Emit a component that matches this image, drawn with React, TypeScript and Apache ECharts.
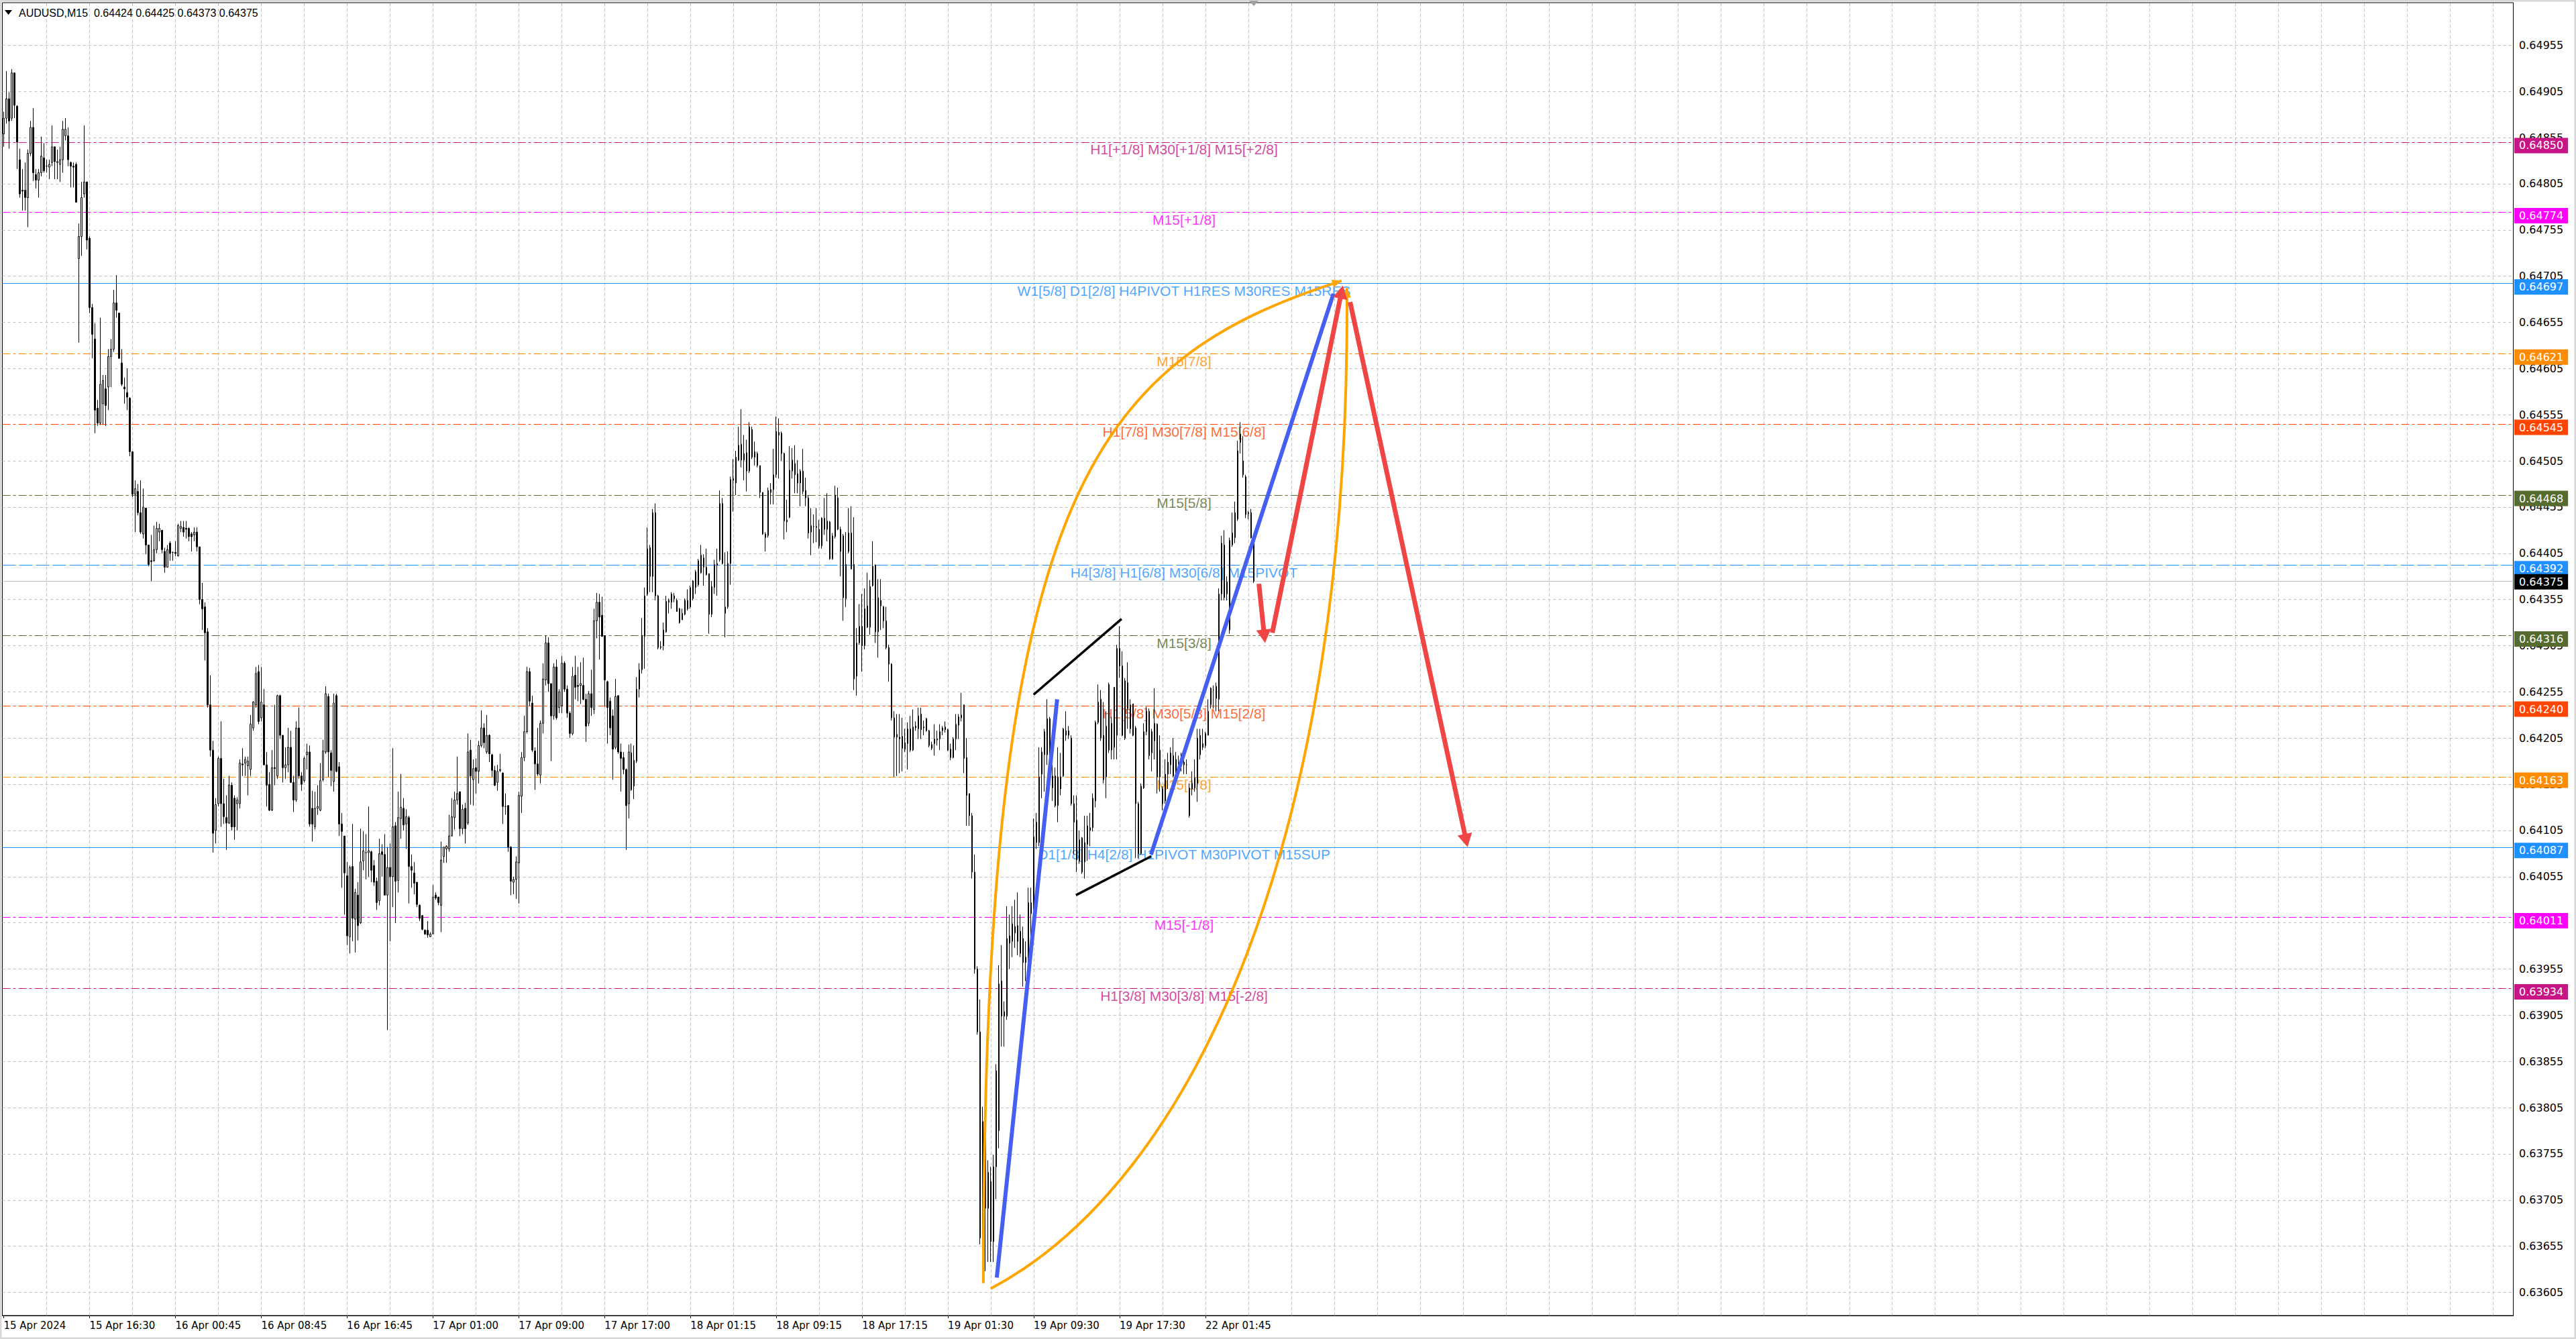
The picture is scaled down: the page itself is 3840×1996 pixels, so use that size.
import React, { useEffect, useRef } from "react";
import * as echarts from "echarts";

// ---------------- data ----------------
const headerText = "AUDUSD,M15  0.64424 0.64425 0.64373 0.64375";

// M15 bars: [open, high, low, close]
const ohlc: number[][] = [
  [0.64859,0.64883,0.64845,0.64876],[0.64876,0.64927,0.64870,0.64897],[0.64897,0.64904,0.64843,0.64873],[0.64876,0.64929,0.64873,0.64925],
  [0.64925,0.64925,0.64876,0.64890],[0.64889,0.64890,0.64821,0.64850],[0.64831,0.64843,0.64790,0.64794],[0.64798,0.64821,0.64776,0.64797],
  [0.64798,0.64828,0.64776,0.64790],[0.64790,0.64842,0.64758,0.64838],[0.64838,0.64873,0.64835,0.64866],[0.64866,0.64887,0.64808,0.64817],
  [0.64815,0.64821,0.64800,0.64809],[0.64809,0.64821,0.64790,0.64817],[0.64817,0.64856,0.64813,0.64835],[0.64833,0.64849,0.64817,0.64819],
  [0.64824,0.64831,0.64817,0.64824],[0.64823,0.64831,0.64810,0.64826],[0.64828,0.64868,0.64824,0.64845],[0.64845,0.64845,0.64810,0.64829],
  [0.64828,0.64842,0.64810,0.64829],[0.64826,0.64845,0.64807,0.64831],[0.64831,0.64873,0.64817,0.64864],[0.64857,0.64876,0.64852,0.64864],
  [0.64857,0.64866,0.64824,0.64831],[0.64828,0.64829,0.64801,0.64824],[0.64824,0.64828,0.64801,0.64823],[0.64826,0.64828,0.64785,0.64785],
  [0.64724,0.64762,0.64633,0.64748],[0.64748,0.64807,0.64727,0.64790],[0.64794,0.64868,0.64790,0.64807],[0.64807,0.64807,0.64734,0.64744],
  [0.64746,0.64748,0.64665,0.64671],[0.64671,0.64675,0.64616,0.64642],[0.64637,0.64654,0.64535,0.64560],[0.64562,0.64571,0.64543,0.64546],
  [0.64546,0.64660,0.64544,0.64588],[0.64567,0.64598,0.64544,0.64592],[0.64583,0.64598,0.64543,0.64565],[0.64585,0.64626,0.64560,0.64618],
  [0.64618,0.64637,0.64585,0.64626],[0.64626,0.64690,0.64623,0.64676],[0.64676,0.64706,0.64660,0.64668],[0.64665,0.64665,0.64616,0.64616],
  [0.64611,0.64626,0.64586,0.64588],[0.64585,0.64595,0.64567,0.64583],[0.64579,0.64605,0.64560,0.64574],[0.64573,0.64574,0.64510,0.64515],
  [0.64515,0.64515,0.64466,0.64469],[0.64469,0.64484,0.64428,0.64475],[0.64472,0.64480,0.64446,0.64449],[0.64449,0.64484,0.64426,0.64428],
  [0.64426,0.64475,0.64421,0.64455],[0.64454,0.64454,0.64404,0.64414],[0.64414,0.64414,0.64391,0.64393],[0.64397,0.64425,0.64375,0.64396],
  [0.64397,0.64435,0.64396,0.64409],[0.64409,0.64439,0.64405,0.64432],[0.64428,0.64437,0.64418,0.64432],[0.64430,0.64430,0.64405,0.64409],
  [0.64407,0.64411,0.64384,0.64390],[0.64390,0.64414,0.64390,0.64409],[0.64416,0.64418,0.64397,0.64405],[0.64406,0.64407,0.64397,0.64406],
  [0.64406,0.64418,0.64402,0.64405],[0.64402,0.64437,0.64402,0.64435],[0.64432,0.64440,0.64428,0.64434],[0.64433,0.64440,0.64423,0.64428],
  [0.64432,0.64440,0.64421,0.64431],[0.64432,0.64433,0.64418,0.64423],[0.64426,0.64428,0.64407,0.64423],[0.64425,0.64433,0.64418,0.64428],
  [0.64428,0.64433,0.64407,0.64412],[0.64412,0.64412,0.64350,0.64355],[0.64355,0.64373,0.64322,0.64345],[0.64347,0.64352,0.64289,0.64319],
  [0.64320,0.64324,0.64238,0.64241],[0.64241,0.64273,0.64185,0.64192],[0.64192,0.64202,0.64081,0.64102],[0.64105,0.64140,0.64091,0.64133],
  [0.64134,0.64185,0.64131,0.64183],[0.64183,0.64223,0.64109,0.64134],[0.64134,0.64161,0.64112,0.64120],[0.64119,0.64143,0.64084,0.64113],
  [0.64113,0.64164,0.64112,0.64154],[0.64154,0.64157,0.64105,0.64109],[0.64140,0.64143,0.64095,0.64109],[0.64134,0.64141,0.64105,0.64138],
  [0.64134,0.64182,0.64129,0.64178],[0.64177,0.64194,0.64164,0.64176],[0.64178,0.64185,0.64164,0.64182],[0.64175,0.64185,0.64143,0.64180],
  [0.64171,0.64230,0.64164,0.64220],[0.64216,0.64245,0.64213,0.64244],[0.64241,0.64282,0.64238,0.64275],[0.64277,0.64284,0.64220,0.64223],
  [0.64227,0.64282,0.64223,0.64244],[0.64241,0.64258,0.64176,0.64176],[0.64176,0.64190,0.64131,0.64154],[0.64155,0.64168,0.64126,0.64127],
  [0.64127,0.64192,0.64126,0.64173],[0.64173,0.64241,0.64154,0.64172],[0.64164,0.64252,0.64161,0.64251],[0.64251,0.64252,0.64204,0.64208],
  [0.64208,0.64208,0.64157,0.64173],[0.64173,0.64195,0.64161,0.64176],[0.64176,0.64216,0.64168,0.64195],[0.64195,0.64213,0.64157,0.64157],
  [0.64157,0.64164,0.64125,0.64138],[0.64138,0.64223,0.64136,0.64216],[0.64216,0.64238,0.64161,0.64164],[0.64164,0.64168,0.64148,0.64155],
  [0.64159,0.64185,0.64157,0.64183],[0.64187,0.64199,0.64171,0.64190],[0.64190,0.64197,0.64109,0.64112],[0.64129,0.64148,0.64093,0.64112],
  [0.64109,0.64147,0.64106,0.64129],[0.64129,0.64154,0.64122,0.64131],[0.64127,0.64178,0.64126,0.64159],
  [0.64160,0.64203,0.64158,0.64191],[0.64190,0.64261,0.64188,0.64253],[0.64250,0.64253,0.64163,0.64190],[0.64189,0.64192,0.64153,0.64170],
  [0.64158,0.64253,0.64147,0.64243],[0.64251,0.64253,0.64168,0.64169],[0.64174,0.64179,0.64099,0.64112],[0.64112,0.64124,0.64043,0.64104],
  [0.64099,0.64099,0.64014,0.64059],[0.64056,0.64071,0.63981,0.63991],[0.63990,0.64067,0.63972,0.64065],[0.64066,0.64112,0.63985,0.64010],
  [0.64009,0.64042,0.63973,0.64038],[0.64035,0.64049,0.63986,0.64002],[0.64005,0.64107,0.64004,0.64071],[0.64072,0.64104,0.64062,0.64083],
  [0.64081,0.64101,0.64052,0.64081],[0.64081,0.64131,0.64055,0.64083],[0.64082,0.64083,0.64049,0.64062],[0.64067,0.64073,0.64045,0.64049],
  [0.64050,0.64054,0.64019,0.64027],[0.64029,0.64096,0.64024,0.64080],[0.64082,0.64090,0.64055,0.64079],[0.64079,0.64101,0.64035,0.64035],
  [0.64035,0.64087,0.63889,0.64065],[0.64065,0.64091,0.63985,0.64055],[0.64055,0.64194,0.64022,0.64109],[0.64110,0.64114,0.64005,0.64050],
  [0.64051,0.64147,0.64038,0.64119],[0.64118,0.64166,0.64096,0.64130],[0.64129,0.64140,0.64105,0.64111],[0.64112,0.64128,0.64085,0.64120],
  [0.64119,0.64121,0.64026,0.64066],[0.64066,0.64079,0.64043,0.64062],[0.64059,0.64071,0.64036,0.64048],[0.64049,0.64049,0.64022,0.64025],
  [0.64024,0.64025,0.64007,0.64010],[0.64013,0.64013,0.63997,0.63998],[0.63997,0.63998,0.63992,0.63993],[0.63997,0.64007,0.63989,0.63992],
  [0.63990,0.63995,0.63990,0.63993],[0.63993,0.64046,0.63993,0.64033],[0.64035,0.64038,0.64030,0.64032],[0.64033,0.64033,0.64024,0.64027],
  [0.64024,0.64093,0.63995,0.64073],[0.64077,0.64087,0.64070,0.64087],[0.64085,0.64089,0.64070,0.64088],[0.64085,0.64122,0.64082,0.64099],
  [0.64099,0.64140,0.64099,0.64120],[0.64119,0.64147,0.64106,0.64138],[0.64138,0.64185,0.64133,0.64145],[0.64147,0.64147,0.64099,0.64107],
  [0.64107,0.64133,0.64101,0.64128],[0.64129,0.64135,0.64091,0.64107],[0.64113,0.64210,0.64111,0.64190],[0.64192,0.64203,0.64133,0.64164],
  [0.64160,0.64182,0.64132,0.64172],[0.64173,0.64183,0.64145,0.64169],[0.64169,0.64202,0.64156,0.64197],[0.64197,0.64235,0.64195,0.64216],
  [0.64216,0.64221,0.64194,0.64200],[0.64190,0.64230,0.64188,0.64208],[0.64208,0.64209,0.64179,0.64188],[0.64187,0.64188,0.64163,0.64170],
  [0.64170,0.64175,0.64153,0.64154],[0.64157,0.64176,0.64148,0.64169],[0.64170,0.64188,0.64168,0.64171],[0.64167,0.64168,0.64112,0.64131],
  [0.64131,0.64145,0.64122,0.64131],[0.64132,0.64132,0.64082,0.64087],[0.64087,0.64088,0.64035,0.64050],[0.64049,0.64055,0.64036,0.64052],
  [0.64052,0.64077,0.64031,0.64071],[0.64070,0.64147,0.64026,0.64143],[0.64142,0.64190,0.64124,0.64184],[0.64184,0.64229,0.64180,0.64212],
  [0.64212,0.64282,0.64210,0.64277],[0.64277,0.64281,0.64240,0.64245],[0.64243,0.64251,0.64190,0.64192],[0.64191,0.64195,0.64149,0.64177],
  [0.64177,0.64216,0.64164,0.64166],[0.64165,0.64224,0.64156,0.64221],[0.64221,0.64286,0.64210,0.64269],[0.64268,0.64316,0.64262,0.64308],
  [0.64308,0.64314,0.64255,0.64264],[0.64264,0.64264,0.64180,0.64229],[0.64229,0.64286,0.64225,0.64282],[0.64282,0.64290,0.64225,0.64227],
  [0.64238,0.64258,0.64232,0.64255],[0.64240,0.64294,0.64232,0.64286],[0.64286,0.64288,0.64255,0.64258],[0.64258,0.64262,0.64227,0.64232],
  [0.64232,0.64234,0.64205,0.64210],[0.64210,0.64282,0.64208,0.64272],[0.64273,0.64294,0.64247,0.64260],[0.64262,0.64282,0.64245,0.64261],
  [0.64262,0.64287,0.64242,0.64264],[0.64262,0.64292,0.64246,0.64247],[0.64247,0.64253,0.64201,0.64218],[0.64221,0.64256,0.64218,0.64253],
  [0.64253,0.64279,0.64229,0.64238],[0.64236,0.64345,0.64231,0.64332],[0.64332,0.64362,0.64313,0.64352],[0.64352,0.64361,0.64290,0.64336],
  [0.64338,0.64358,0.64315,0.64315],[0.64316,0.64316,0.64239,0.64268],[0.64266,0.64267,0.64199,0.64238],[0.64245,0.64249,0.64208,0.64216],
  [0.64229,0.64236,0.64160,0.64193],[0.64195,0.64269,0.64193,0.64250],[0.64251,0.64251,0.64188,0.64190],[0.64190,0.64199,0.64147,0.64183],
  [0.64184,0.64190,0.64166,0.64171],[0.64171,0.64172,0.64084,0.64132],[0.64134,0.64198,0.64118,0.64190],[0.64189,0.64199,0.64148,0.64149],
  [0.64153,0.64197,0.64139,0.64181],[0.64180,0.64271,0.64178,0.64258],[0.64258,0.64286,0.64249,0.64279],[0.64279,0.64335,0.64275,0.64316],
  [0.64315,0.64368,0.64280,0.64359],[0.64361,0.64433,0.64359,0.64410],[0.64411,0.64414,0.64363,0.64380],[0.64380,0.64453,0.64363,0.64449],
  [0.64449,0.64459,0.64354,0.64359],[0.64359,0.64360,0.64301,0.64303],[0.64303,0.64310,0.64301,0.64304],[0.64305,0.64330,0.64300,0.64322],
  [0.64320,0.64359,0.64319,0.64353],[0.64352,0.64356,0.64340,0.64354],[0.64352,0.64363,0.64345,0.64361],[0.64359,0.64362,0.64352,0.64356],
  [0.64354,0.64356,0.64342,0.64342],[0.64345,0.64346,0.64329,0.64330],[0.64333,0.64345,0.64333,0.64340],[0.64339,0.64356,0.64338,0.64354],
  [0.64354,0.64366,0.64343,0.64345],[0.64347,0.64370,0.64345,0.64368],[0.64356,0.64376,0.64354,0.64375],[0.64368,0.64387,0.64361,0.64385],
  [0.64371,0.64399,0.64369,0.64397],[0.64384,0.64414,0.64383,0.64403],[0.64400,0.64404,0.64370,0.64390],[0.64390,0.64410,0.64381,0.64382],
  [0.64383,0.64383,0.64318,0.64339],[0.64339,0.64375,0.64336,0.64369],[0.64368,0.64398,0.64361,0.64393],[0.64392,0.64410,0.64359,0.64394],
  [0.64398,0.64473,0.64396,0.64459],[0.64459,0.64465,0.64393,0.64394],[0.64340,0.64406,0.64314,0.64347],[0.64347,0.64407,0.64345,0.64394],
  [0.64394,0.64488,0.64371,0.64485],[0.64484,0.64507,0.64450,0.64486],[0.64481,0.64516,0.64468,0.64509],[0.64506,0.64542,0.64505,0.64522],
  [0.64523,0.64561,0.64498,0.64506],[0.64506,0.64533,0.64484,0.64513],[0.64514,0.64528,0.64472,0.64494],[0.64494,0.64547,0.64492,0.64542],
  [0.64539,0.64542,0.64507,0.64509],[0.64515,0.64526,0.64500,0.64509],[0.64513,0.64515,0.64498,0.64500],[0.64500,0.64500,0.64465,0.64471],
  [0.64471,0.64471,0.64425,0.64426],[0.64422,0.64428,0.64407,0.64426],[0.64424,0.64476,0.64422,0.64473],[0.64471,0.64481,0.64458,0.64474],
  [0.64474,0.64518,0.64458,0.64490],[0.64490,0.64553,0.64487,0.64537],[0.64536,0.64551,0.64486,0.64533],[0.64535,0.64537,0.64505,0.64513],
  [0.64513,0.64514,0.64420,0.64440],[0.64439,0.64463,0.64428,0.64441],[0.64444,0.64521,0.64443,0.64495],[0.64494,0.64519,0.64486,0.64506],
  [0.64502,0.64522,0.64470,0.64490],[0.64491,0.64506,0.64470,0.64481],[0.64481,0.64496,0.64456,0.64494],[0.64494,0.64518,0.64469,0.64472],
  [0.64473,0.64487,0.64456,0.64465],[0.64465,0.64468,0.64421,0.64427],[0.64428,0.64454,0.64403,0.64435],[0.64434,0.64447,0.64416,0.64434],
  [0.64434,0.64454,0.64417,0.64433],[0.64431,0.64441,0.64410,0.64413],[0.64413,0.64444,0.64410,0.64443],[0.64443,0.64465,0.64425,0.64431],
  [0.64431,0.64470,0.64418,0.64440],[0.64439,0.64440,0.64398,0.64399],[0.64399,0.64427,0.64398,0.64424],[0.64423,0.64478,0.64421,0.64468],
  [0.64465,0.64476,0.64430,0.64431],[0.64431,0.64434,0.64380,0.64407],[0.64424,0.64426,0.64332,0.64357],[0.64356,0.64428,0.64347,0.64393],
  [0.64427,0.64454,0.64405,0.64407],[0.64427,0.64456,0.64388,0.64388],[0.64393,0.64444,0.64257,0.64269],[0.64272,0.64324,0.64251,0.64308],
  [0.64308,0.64350,0.64306,0.64326],[0.64326,0.64361,0.64277,0.64305],[0.64305,0.64367,0.64301,0.64345],[0.64348,0.64384,0.64324,0.64325],
  [0.64325,0.64376,0.64317,0.64369],[0.64370,0.64418,0.64369,0.64391],[0.64392,0.64393,0.64308,0.64320],[0.64320,0.64377,0.64292,0.64357],
  [0.64354,0.64377,0.64322,0.64348],[0.64347,0.64348,0.64324,0.64332],[0.64332,0.64347,0.64301,0.64303],[0.64303,0.64306,0.64266,0.64285],
  [0.64285,0.64286,0.64224,0.64227],[0.64227,0.64234,0.64163,0.64206],[0.64206,0.64231,0.64164,0.64209],[0.64206,0.64231,0.64167,0.64204],
  [0.64207,0.64227,0.64169,0.64194],[0.64193,0.64215,0.64190,0.64200],[0.64199,0.64222,0.64171,0.64215],[0.64215,0.64229,0.64190,0.64192],
  [0.64192,0.64236,0.64191,0.64217],[0.64216,0.64223,0.64213,0.64218],[0.64215,0.64238,0.64204,0.64229],[0.64231,0.64238,0.64204,0.64214],
  [0.64217,0.64224,0.64208,0.64216],[0.64226,0.64227,0.64212,0.64213],[0.64213,0.64214,0.64195,0.64197],[0.64198,0.64201,0.64192,0.64194],
  [0.64199,0.64220,0.64186,0.64204],[0.64203,0.64213,0.64197,0.64204],[0.64204,0.64220,0.64192,0.64212],[0.64213,0.64218,0.64208,0.64216],
  [0.64217,0.64223,0.64211,0.64214],[0.64214,0.64215,0.64191,0.64192],[0.64193,0.64199,0.64181,0.64184],[0.64184,0.64206,0.64183,0.64204],
  [0.64204,0.64231,0.64192,0.64220],[0.64219,0.64231,0.64204,0.64228],[0.64227,0.64254,0.64223,0.64230],[0.64241,0.64241,0.64167,0.64183],
  [0.64184,0.64205,0.64110,0.64143],[0.64145,0.64145,0.64110,0.64121],[0.64121,0.64124,0.64053,0.64060],[0.64060,0.64079,0.63950,0.63955],
  [0.63955,0.63958,0.63884,0.63887],[0.63887,0.63922,0.63657,0.63664],[0.63664,0.63806,0.63618,0.63790],[0.63790,0.63803,0.63628,0.63696],
  [0.63696,0.63748,0.63638,0.63735],[0.63725,0.63741,0.63638,0.63660],[0.63660,0.63754,0.63638,0.63741],[0.63741,0.63852,0.63706,0.63845],
  [0.63780,0.63959,0.63761,0.63939],[0.63942,0.63981,0.63871,0.63904],[0.63909,0.63920,0.63871,0.63904],[0.63904,0.64023,0.63900,0.63988],
  [0.63991,0.64014,0.63955,0.63983],[0.63985,0.64023,0.63968,0.64004],[0.64001,0.64030,0.63978,0.63994],[0.64002,0.64038,0.63970,0.63985],
  [0.63996,0.64014,0.63968,0.63972],[0.63988,0.64001,0.63936,0.63962],[0.63962,0.63985,0.63942,0.63968],[0.63965,0.64043,0.63959,0.64027],
  [0.64015,0.64043,0.63978,0.64027],[0.64020,0.64118,0.63998,0.64098],[0.64114,0.64124,0.64085,0.64092],[0.64092,0.64195,0.64088,0.64163],
  [0.64166,0.64195,0.64140,0.64190],[0.64187,0.64215,0.64147,0.64212],[0.64187,0.64247,0.64176,0.64226],[0.64226,0.64228,0.64150,0.64166],
  [0.64151,0.64176,0.64137,0.64164],[0.64164,0.64173,0.64130,0.64132],[0.64132,0.64195,0.64114,0.64163],[0.64150,0.64189,0.64143,0.64163],
  [0.64164,0.64216,0.64163,0.64215],[0.64213,0.64234,0.64202,0.64208],[0.64213,0.64218,0.64204,0.64208],[0.64205,0.64208,0.64132,0.64134],
  [0.64134,0.64143,0.64079,0.64114],[0.64116,0.64143,0.64060,0.64073],[0.64072,0.64105,0.64069,0.64095],[0.64097,0.64098,0.64058,0.64060],
  [0.64092,0.64121,0.64053,0.64071],[0.64090,0.64121,0.64072,0.64110],[0.64105,0.64124,0.64088,0.64108],[0.64108,0.64145,0.64104,0.64140],
  [0.64137,0.64224,0.64130,0.64222],[0.64222,0.64263,0.64220,0.64244],[0.64247,0.64257,0.64202,0.64205],[0.64208,0.64244,0.64156,0.64160],
  [0.64163,0.64234,0.64140,0.64218],[0.64263,0.64265,0.64189,0.64192],[0.64221,0.64228,0.64182,0.64192],[0.64260,0.64260,0.64182,0.64195],
  [0.64208,0.64306,0.64182,0.64302],[0.64302,0.64326,0.64270,0.64283],[0.64283,0.64299,0.64207,0.64208],[0.64267,0.64270,0.64203,0.64205],
  [0.64265,0.64287,0.64215,0.64237],[0.64215,0.64247,0.64210,0.64241],[0.64242,0.64242,0.64207,0.64208],[0.64216,0.64218,0.64075,0.64134],
  [0.64134,0.64136,0.64075,0.64080],[0.64080,0.64156,0.64079,0.64153],[0.64151,0.64221,0.64150,0.64212],[0.64212,0.64239,0.64208,0.64234],
  [0.64234,0.64237,0.64182,0.64186],[0.64212,0.64215,0.64169,0.64189],[0.64202,0.64259,0.64182,0.64221],[0.64220,0.64221,0.64145,0.64163],
  [0.64192,0.64208,0.64147,0.64163],[0.64150,0.64153,0.64127,0.64134],[0.64137,0.64182,0.64134,0.64166],[0.64166,0.64189,0.64150,0.64179],
  [0.64176,0.64195,0.64166,0.64189],[0.64186,0.64205,0.64163,0.64164],[0.64169,0.64190,0.64163,0.64182],[0.64176,0.64186,0.64169,0.64179],
  [0.64179,0.64189,0.64169,0.64178],[0.64176,0.64189,0.64166,0.64179],[0.64176,0.64182,0.64166,0.64176],[0.64121,0.64156,0.64119,0.64151],
  [0.64150,0.64169,0.64143,0.64156],[0.64151,0.64182,0.64147,0.64162],[0.64156,0.64215,0.64136,0.64205],[0.64187,0.64215,0.64182,0.64208],
  [0.64195,0.64215,0.64192,0.64199],[0.64197,0.64212,0.64194,0.64210],[0.64208,0.64247,0.64208,0.64234],[0.64241,0.64260,0.64237,0.64259],
  [0.64257,0.64262,0.64237,0.64257],[0.64248,0.64265,0.64234,0.64261],[0.64247,0.64367,0.64234,0.64361],[0.64361,0.64424,0.64354,0.64416],
  [0.64414,0.64430,0.64354,0.64357],[0.64361,0.64380,0.64354,0.64374],[0.64322,0.64422,0.64318,0.64419],[0.64414,0.64449,0.64412,0.64427],
  [0.64422,0.64461,0.64416,0.64449],[0.64442,0.64527,0.64440,0.64516],[0.64534,0.64547,0.64513,0.64525],[0.64505,0.64532,0.64487,0.64490],
  [0.64488,0.64490,0.64443,0.64447],[0.64449,0.64451,0.64442,0.64448],[0.64449,0.64453,0.64421,0.64422],[0.64424,0.64425,0.64373,0.64375],
];

// time axis: one label every 32 bars
const timeLabels = [
  "15 Apr 2024", "15 Apr 16:30", "16 Apr 00:45", "16 Apr 08:45", "16 Apr 16:45",
  "17 Apr 01:00", "17 Apr 09:00", "17 Apr 17:00", "18 Apr 01:15", "18 Apr 09:15",
  "18 Apr 17:15", "19 Apr 01:30", "19 Apr 09:30", "19 Apr 17:30", "22 Apr 01:45",
];
const timeLabelStep = 32;

// price axis tick labels
const priceTicks = [
  0.64955, 0.64905, 0.64855, 0.64805, 0.64755, 0.64705, 0.64655, 0.64605, 0.64555, 0.64505,
  0.64455, 0.64405, 0.64355, 0.64305, 0.64255, 0.64205, 0.64155, 0.64105, 0.64055, 0.64005,
  0.63955, 0.63905, 0.63855, 0.63805, 0.63755, 0.63705, 0.63655, 0.63605,
];

// Murrey math levels
const levelPrices = [0.64850, 0.64774, 0.64697, 0.64621, 0.64545, 0.64468, 0.64392, 0.64316, 0.64240, 0.64163, 0.64087, 0.64011, 0.63934];
const levelNames = [
  "H1[+1/8] M30[+1/8] M15[+2/8]",
  "M15[+1/8]",
  "W1[5/8] D1[2/8] H4PIVOT H1RES M30RES M15RES",
  "M15[7/8]",
  "H1[7/8] M30[7/8] M15[6/8]",
  "M15[5/8]",
  "H4[3/8] H1[6/8] M30[6/8] M15PIVOT",
  "M15[3/8]",
  "H1[5/8] M30[5/8] M15[2/8]",
  "M15[1/8]",
  "D1[1/8] H4[2/8] H1PIVOT M30PIVOT M15SUP",
  "M15[-1/8]",
  "H1[3/8] M30[3/8] M15[-2/8]",
];
const bidPrice = 0.64375;

// hand-drawn objects, anchor points as [bar index, price]
const orangeArcLeft = [[365.2, 0.63615], [365.2, 0.64459], [403.7, 0.64612], [498.7, 0.64700]];
const orangeArcRight = [[367.9, 0.63609], [443.7, 0.63726], [502.4, 0.64096], [500.7, 0.64692]];
const blueTrend1 = [[370.2, 0.63621], [392.7, 0.64247]];
const blueTrend2 = [[427.7, 0.64079], [495.7, 0.64686]];
const channelUpper = [[383.9, 0.64252], [416.7, 0.64334]];
const channelLower = [[399.7, 0.64035], [427.7, 0.64077]];
const redArrow1 = [[467.9, 0.64372], [470.2, 0.64308]];
const redArrow2 = [[472.9, 0.64319], [499.2, 0.64695]];
const redArrow3 = [[501.9, 0.64677], [545.7, 0.64087]];

// ---------------- styles ----------------
const TOTAL_SLOTS = 936;
const GRID_STEP = 16;
const LABEL_BAR = 440;
const Y_MIN = 0.6358;
const Y_MAX = 0.65001;
const DASHDOT = [12, 4, 4, 4];
const levelColors = ["#C71585", "#FF00FF", "#1E90FF", "#FF8C00", "#FF4500", "#556B2F", "#1E90FF", "#556B2F", "#FF4500", "#FF8C00", "#1E90FF", "#FF00FF", "#C71585"];
const levelDash: any[] = [DASHDOT, DASHDOT, "solid", DASHDOT, DASHDOT, DASHDOT, [20, 5], DASHDOT, DASHDOT, DASHDOT, "solid", DASHDOT, DASHDOT];
const ORANGE = "#FFA500";
const BLUE = "#4560F0";
const RED = "#F04545";

const drawings = [
  { kind: "curveArrow", pts: orangeArcLeft, color: ORANGE, width: 4, head: [14, 6] },
  { kind: "curveArrow", pts: orangeArcRight, color: ORANGE, width: 4, head: [14, 6] },
  { kind: "line", pts: blueTrend1, color: BLUE, width: 6 },
  { kind: "line", pts: blueTrend2, color: BLUE, width: 6 },
  { kind: "line", pts: channelUpper, color: "#000000", width: 3.5 },
  { kind: "line", pts: channelLower, color: "#000000", width: 3.5 },
  { kind: "arrow", pts: redArrow1, color: RED, width: 7, head: [20, 11] },
  { kind: "arrow", pts: redArrow2, color: RED, width: 7, head: [20, 11] },
  { kind: "arrow", pts: redArrow3, color: RED, width: 7, head: [20, 11] },
  { kind: "shift", pts: [[ohlc.length - 1, Y_MAX]], color: "#A0A0A0", width: 0 },
];

const PRICE_FONT = "DejaVu Sans";
const TEXT_FONT = "Liberation Sans";

export default function App() {
  const ref = useRef<HTMLDivElement>(null);

  useEffect(() => {
    const el = ref.current!;
    const chart = echarts.init(el, null, { renderer: "svg" });

    const categories = Array.from({ length: TOTAL_SLOTS }, (_, i) => String(i));
    const candleData = ohlc.map((b) => [b[0], b[3], b[2], b[1]]);

    const gridLines: any[] = priceTicks.map((p) => ({
      yAxis: p,
      lineStyle: { color: "#C0C0C0", type: [4, 4], width: 1 },
      label: {
        show: true,
        position: "end",
        distance: 8.5,
        formatter: p.toFixed(5),
        color: "#000",
        fontFamily: PRICE_FONT,
        fontSize: 16,
      },
    }));
    for (let b = GRID_STEP; b < TOTAL_SLOTS; b += GRID_STEP) {
      gridLines.push({
        xAxis: b,
        lineStyle: { color: "#C0C0C0", type: [4, 4], width: 1 },
        label: { show: false },
      });
    }

    const tag = (price: number, bg: string, dy: number) => ({
      show: true,
      position: "end",
      distance: 1.5,
      offset: [0, dy],
      formatter: price.toFixed(5),
      color: "#fff",
      backgroundColor: bg,
      padding: [3, 7, 3, 7],
      lineHeight: 17,
      fontFamily: PRICE_FONT,
      fontSize: 16,
    });

    const levelLines: any[] = levelPrices.map((p, i) => ({
      yAxis: p,
      lineStyle: { color: levelColors[i], type: levelDash[i], width: 1 },
      label: tag(p, levelColors[i], 5),
    }));
    levelLines.push({
      yAxis: bidPrice,
      lineStyle: { color: "#C0C0C0", type: "solid", width: 1 },
      label: tag(bidPrice, "#000000", 1),
    });

    const levelTextData = levelPrices.map((p, i) => ({
      value: [LABEL_BAR, p],
      label: { color: levelColors[i] },
    }));

    const renderDrawing = (params: any, api: any) => {
      const d: any = drawings[params.dataIndex];
      const ref0 = api.coord([0, d.pts[0][1]]);
      const ref1 = api.coord([1, d.pts[0][1]]);
      const step = ref1[0] - ref0[0];
      const P = d.pts.map((p: number[]) => {
        const c = api.coord([0, p[1]]);
        return [ref0[0] + p[0] * step, c[1]];
      });
      const children: any[] = [];
      const head = (tip: number[], from: number[], len: number, half: number) => {
        const dx = tip[0] - from[0];
        const dy = tip[1] - from[1];
        const n = Math.hypot(dx, dy) || 1;
        const ux = dx / n, uy = dy / n;
        const bx = tip[0] - ux * len, by = tip[1] - uy * len;
        return {
          type: "polygon",
          shape: { points: [[tip[0], tip[1]], [bx - uy * half, by + ux * half], [bx + uy * half, by - ux * half]] },
          style: { fill: d.color },
        };
      };
      if (d.kind === "line") {
        children.push({
          type: "line",
          shape: { x1: P[0][0], y1: P[0][1], x2: P[1][0], y2: P[1][1] },
          style: { stroke: d.color, lineWidth: d.width, lineCap: "butt" },
        });
      } else if (d.kind === "arrow") {
        const [len, half] = d.head;
        const dx = P[1][0] - P[0][0], dy = P[1][1] - P[0][1];
        const n = Math.hypot(dx, dy) || 1;
        const ex = P[1][0] - (dx / n) * len * 0.7, ey = P[1][1] - (dy / n) * len * 0.7;
        children.push({
          type: "line",
          shape: { x1: P[0][0], y1: P[0][1], x2: ex, y2: ey },
          style: { stroke: d.color, lineWidth: d.width, lineCap: "butt" },
        });
        children.push(head(P[1], P[0], len, half));
      } else if (d.kind === "curveArrow") {
        const [len, half] = d.head;
        children.push({
          type: "bezierCurve",
          shape: {
            x1: P[0][0], y1: P[0][1],
            cpx1: P[1][0], cpy1: P[1][1],
            cpx2: P[2][0], cpy2: P[2][1],
            x2: P[3][0], y2: P[3][1],
          },
          style: { stroke: d.color, lineWidth: d.width, fill: "none" },
        });
        children.push(head(P[3], P[2], len, half));
      } else if (d.kind === "shift") {
        const x = P[0][0], y = P[0][1];
        children.push({
          type: "polygon",
          shape: { points: [[x - 7, y - 3], [x + 7, y - 3], [x, y + 5]] },
          style: { fill: d.color },
        });
      }
      return { type: "group", children };
    };

    const option: any = {
      animation: false,
      backgroundColor: "#ffffff",
      grid: {
        left: 3.5,
        top: 4,
        width: 3743,
        height: 1957,
        show: true,
        borderColor: "#000000",
        borderWidth: 1,
        backgroundColor: "transparent",
      },
      xAxis: {
        type: "category",
        data: categories,
        boundaryGap: true,
        axisLine: { show: true, lineStyle: { color: "#000", width: 1 } },
        axisTick: {
          show: true,
          alignWithLabel: true,
          length: 4,
          interval: (i: number) => i % timeLabelStep === 0 && i / timeLabelStep < timeLabels.length,
          lineStyle: { color: "#000" },
        },
        axisLabel: {
          show: true,
          interval: (i: number) => i % timeLabelStep === 0 && i / timeLabelStep < timeLabels.length,
          formatter: (v: string) => timeLabels[Number(v) / timeLabelStep] ?? "",
          align: "left",
          margin: 7,
          color: "#000",
          fontFamily: PRICE_FONT,
          fontSize: 15,
        },
        splitLine: { show: false },
      },
      yAxis: {
        type: "value",
        min: Y_MIN,
        max: Y_MAX,
        position: "right",
        axisLine: { show: false },
        axisTick: { show: false },
        axisLabel: { show: false },
        splitLine: { show: false },
      },
      graphic: [
        {
          type: "rect",
          shape: { x: 0, y: 0, width: 3840, height: 1996 },
          style: { fill: "none", stroke: "#D8D8D8", lineWidth: 5 },
          silent: true,
          z: 0,
        },
        {
          type: "polygon",
          shape: { points: [[7, 15], [18, 15], [12.5, 22]] },
          style: { fill: "#000" },
          z: 10,
        },
        {
          type: "text",
          x: 28,
          y: 19,
          style: {
            text: headerText,
            fill: "#000",
            font: `16px '${TEXT_FONT}'`,
            verticalAlign: "middle",
            align: "left",
          },
          z: 10,
        },
      ],
      series: [
        {
          name: "grid",
          type: "line",
          data: [],
          silent: true,
          z: 1,
          markLine: {
            silent: true,
            symbol: ["none", "none"],
            animation: false,
            precision: 5,
            z: 1,
            data: gridLines,
          },
        },
        {
          name: "levels",
          type: "line",
          data: [],
          silent: true,
          z: 2,
          markLine: {
            silent: true,
            symbol: ["none", "none"],
            animation: false,
            precision: 5,
            z: 2,
            data: levelLines,
          },
        },
        {
          name: "levelText",
          type: "scatter",
          data: levelTextData,
          symbolSize: 1,
          itemStyle: { color: "transparent" },
          silent: true,
          z: 2,
          label: {
            show: true,
            position: "inside",
            offset: [0, 11],
            formatter: (p: any) => levelNames[p.dataIndex],
            fontFamily: TEXT_FONT,
            fontSize: 21,
          },
        },
        {
          name: "AUDUSD",
          type: "candlestick",
          data: candleData,
          barWidth: 2,
          z: 3,
          itemStyle: {
            color: "#ffffff",
            color0: "#000000",
            borderColor: "#000000",
            borderColor0: "#000000",
            borderColorDoji: "#000000",
            borderWidth: 1,
          },
        },
        {
          name: "drawings",
          type: "custom",
          data: drawings.map((_, i) => [i]),
          renderItem: renderDrawing,
          clip: false,
          silent: true,
          z: 4,
        },
      ],
    };

    chart.setOption(option);
    return () => chart.dispose();
  }, []);

  return (
    <div
      ref={ref}
      style={{ position: "fixed", left: 0, top: 0, width: 3840, height: 1996, background: "#ffffff" }}
    />
  );
}
